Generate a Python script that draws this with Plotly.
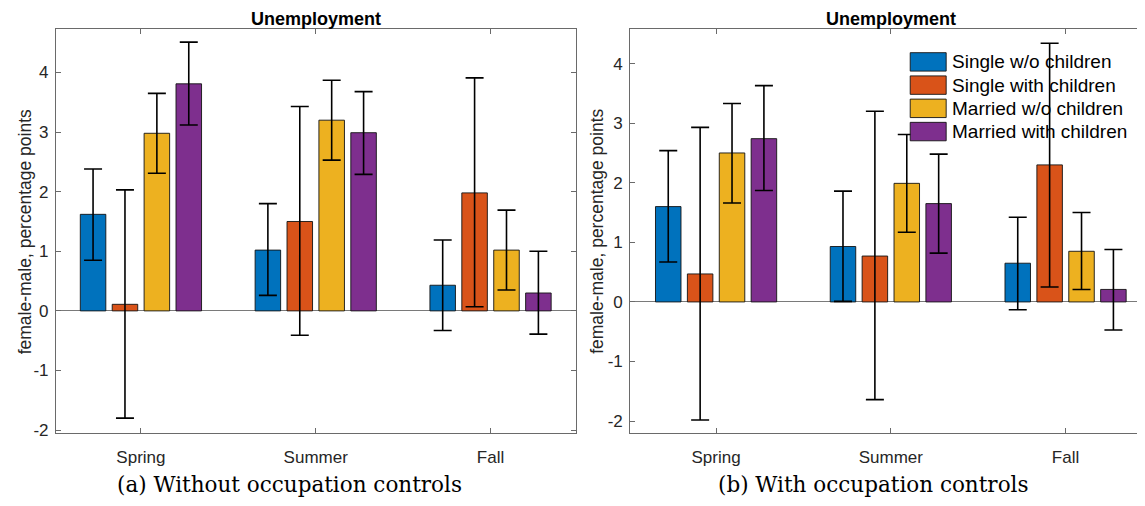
import plotly.graph_objects as go

W, H = 1145, 506
OFF = 8  # the page shows the figure shifted by 8 px right and down

seasons = ["Spring", "Summer", "Fall"]
groups = ["Single w/o children", "Single with children", "Married w/o children", "Married with children"]
colors = ["#0072BD", "#D95319", "#EDB120", "#7E2F8E"]

# Panel (a): without occupation controls
a_val = [[1.62, 1.02, 0.43], [0.11, 1.50, 1.98], [2.98, 3.20, 1.02], [3.81, 2.99, 0.30]]
a_hi = [[2.38, 1.80, 1.19], [2.03, 3.43, 3.91], [3.65, 3.87, 1.69], [4.51, 3.68, 1.00]]
a_lo = [[0.85, 0.26, -0.33], [-1.80, -0.41, 0.07], [2.31, 2.53, 0.35], [3.12, 2.29, -0.39]]

# Panel (b): with occupation controls
b_val = [[1.60, 0.93, 0.65], [0.47, 0.77, 2.30], [2.50, 1.99, 0.85], [2.74, 1.65, 0.21]]
b_hi = [[2.54, 1.86, 1.42], [2.93, 3.20, 4.34], [3.33, 2.81, 1.50], [3.63, 2.48, 0.88]]
b_lo = [[0.67, 0.01, -0.13], [-1.98, -1.64, 0.25], [1.66, 1.17, 0.21], [1.87, 0.82, -0.47]]

yticks = [-2, -1, 0, 1, 2, 3, 4]
yticklabels = ["-2", "-1", "0", "1", "2", "3", "4"]
title_text = "Unemployment"
ylabel = "female-male, percentage points"
captions = ["(a) Without occupation controls", "(b) With occupation controls"]


def px(x):
    return (x - OFF) / W


def py(y):
    return 1 - (y - OFF) / H


fig = go.Figure()


def add_panel(vals, his, los, xa, ya):
    for g, name in enumerate(groups):
        v = vals[g]
        fig.add_trace(go.Bar(
            x=seasons, y=v, name=name, xaxis=xa, yaxis=ya, showlegend=False,
            marker=dict(color=colors[g], line=dict(color="rgba(20,20,20,0.9)", width=1)),
            error_y=dict(type="data", symmetric=False,
                         array=[h - x for h, x in zip(his[g], v)],
                         arrayminus=[x - l for l, x in zip(los[g], v)],
                         color="black", thickness=1.6, width=9),
        ))


add_panel(a_val, a_hi, a_lo, "x", "y")
add_panel(b_val, b_hi, b_lo, "x2", "y2")

axcol = "#6a6a6a"
sans = "Liberation Sans, Arial, Helvetica, sans-serif"
tickfont = dict(family=sans, size=17, color="#262626")
common_x = dict(type="category", showline=True, linecolor=axcol, linewidth=1, ticks="inside",
                ticklen=5, tickcolor=axcol, tickfont=tickfont, showgrid=False, zeroline=False,
                ticklabelstandoff=9)
common_y = dict(showline=True, linecolor=axcol, linewidth=1, ticks="inside", ticklen=5,
                tickcolor=axcol, tickfont=tickfont, showgrid=False, tickvals=yticks,
                ticktext=yticklabels,
                zeroline=True, zerolinecolor="#7a7a7a", zerolinewidth=1.3, ticklabelstandoff=3)

ydom = [py(439), py(29.3)]
fig.update_layout(
    width=W, height=H, margin=dict(l=0, r=0, t=0, b=0),
    paper_bgcolor="white", plot_bgcolor="white",
    barmode="group", bargap=0.27, bargroupgap=0.2,
    xaxis=dict(domain=[px(56), px(576)], range=[-0.486, 2.486], mirror="ticks", anchor="y", **common_x),
    yaxis=dict(domain=ydom, range=[-2.05, 4.73], mirror="ticks", anchor="x", **common_y),
    xaxis2=dict(domain=[px(630.7), min(1.0, px(1152.5))], range=[-0.4917, 2.4917], mirror="ticks",
                anchor="y2", **common_x),
    yaxis2=dict(domain=ydom, range=[-2.20, 4.58], mirror="ticks", anchor="x2", **common_y),
)

ann = []
for xr in ["x", "x2"]:
    ann.append(dict(text="<b>" + title_text + "</b>", xref=xr, x=1, yref="paper", y=1.0,
                    xanchor="center", yanchor="top", showarrow=False, borderpad=0,
                    font=dict(family=sans, size=18, color="black")))
for xpx in [25, 598]:
    ann.append(dict(text=ylabel, xref="paper", x=px(xpx), yref="paper", y=py(234.5),
                    textangle=-90, xanchor="center", yanchor="middle", showarrow=False,
                    font=dict(family=sans, size=17.5, color="#262626")))
for cap, xpx in zip(captions, [290, 874]):
    ann.append(dict(text=cap, xref="paper", x=px(xpx), yref="paper", y=py(491),
                    xanchor="center", yanchor="middle", showarrow=False,
                    font=dict(family="DejaVu Serif, serif", size=21.5, color="black")))

# legend (drawn in the upper right of panel b)
shapes = []
lx0, lx1, ly0, pitch, sh = 911, 947, 53.3, 23.55, 18.7
for i, (name, c) in enumerate(zip(groups, colors)):
    top = ly0 + i * pitch
    shapes.append(dict(type="rect", xref="paper", yref="paper",
                       x0=px(lx0), x1=px(lx1), y0=py(top + sh), y1=py(top),
                       fillcolor=c, line=dict(color="rgba(20,20,20,0.9)", width=1)))
    ann.append(dict(text=name, xref="paper", x=px(951), yref="paper", y=py(top + sh / 2),
                    xanchor="left", yanchor="middle", showarrow=False,
                    font=dict(family=sans, size=19, color="black")))

fig.update_layout(annotations=ann, shapes=shapes)
fig.write_html("out.html")
